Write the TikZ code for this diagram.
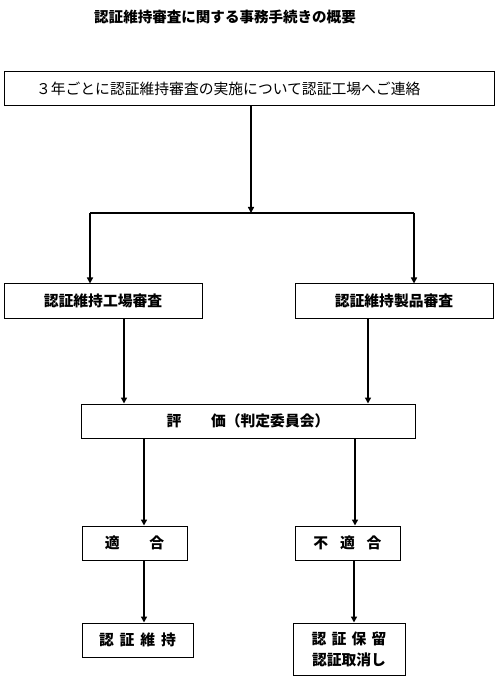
\documentclass[tikz,border=0pt]{standalone}
\usepackage{fontspec}
\newfontfamily\jp{Noto Sans CJK JP}
\usetikzlibrary{arrows.meta}
\begin{document}
\begin{tikzpicture}[x=0.75pt,y=-0.75pt,
  box/.style={draw,line width=0.75pt,inner sep=0pt,minimum height=25.5pt,font=\jp\fontsize{11.1pt}{14pt}\selectfont\bfseries},
  conn/.style={line width=1.5pt},
  arr/.style={conn,-{Triangle[length=4.5pt,width=4.5pt]}}]
\useasboundingbox (0,0) rectangle (500,680);
\node[font=\jp\fontsize{10.9pt}{13pt}\selectfont\bfseries] (title) at (225,17) {認証維持審査に関する事務手続きの概要};
\node[box,font=\jp\fontsize{11.1pt}{14pt}\selectfont,text width=319.5pt,inner xsep=24pt,align=left] (b1) at (249,88.5) {３年ごとに認証維持審査の実施について認証工場へご連絡};
\node[box,minimum width=148.5pt] (fac) at (103,301) {認証維持工場審査};
\node[box,minimum width=148.5pt] (prod) at (394,301) {認証維持製品審査};
\node[box,minimum width=250.5pt] (eval) at (248,421) {評　　価（判定委員会）};
\node[box,minimum width=78.75pt] (ok) at (134.5,543) {適　　合};
\node[box,minimum width=78.75pt] (ng) at (347.5,543) {不\hspace{0.8em}適\hspace{0.8em}合};
\node[box,minimum width=83.25pt] (keep) at (137.5,640) {認\hspace{0.4em}証\hspace{0.4em}維\hspace{0.4em}持};
\node[box,minimum width=84pt,minimum height=39pt,align=center] (hold) at (349,649) {認\hspace{0.35em}証\hspace{0.35em}保\hspace{0.35em}留\\[2pt]認証取消し};
\coordinate (J) at (251,213);
\coordinate (Jl) at (90,213);
\coordinate (Jr) at (414,213);
\draw[arr] (J |- b1.south) -- (J);
\draw[conn] (Jl) -- (Jr);
\draw[arr] (Jl) -- (Jl |- fac.north);
\draw[arr] (Jr) -- (Jr |- prod.north);
\coordinate (E1) at (124,0);
\coordinate (E2) at (368,0);
\draw[arr] (E1 |- fac.south) -- (E1 |- eval.north);
\draw[arr] (E2 |- prod.south) -- (E2 |- eval.north);
\coordinate (F1) at (144,0);
\coordinate (F2) at (355,0);
\draw[arr] (F1 |- eval.south) -- (F1 |- ok.north);
\draw[arr] (F2 |- eval.south) -- (F2 |- ng.north);
\coordinate (G1) at (144,0);
\coordinate (G2) at (354,0);
\draw[arr] (G1 |- ok.south) -- (G1 |- keep.north);
\draw[arr] (G2 |- ng.south) -- (G2 |- hold.north);
\end{tikzpicture}
\end{document}
